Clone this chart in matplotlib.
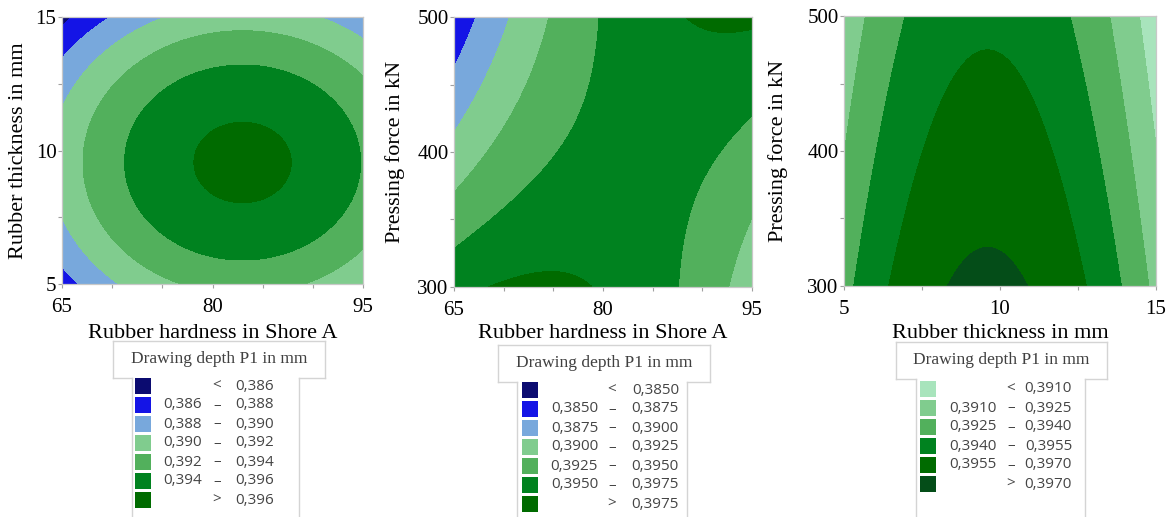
import numpy as np
import matplotlib.pyplot as plt
from matplotlib.patches import Rectangle
from matplotlib.lines import Line2D
from matplotlib.ticker import FixedLocator, FixedFormatter

W, H = 1170, 517

# axis ranges and ticks
hardness_range = [65, 95]
thickness_range = [5, 15]
force_range = [300, 500]
hardness_ticks = [65, 70, 75, 80, 85, 90, 95]
hardness_labels = ['65', '', '', '80', '', '', '95']
thickness_ticks = [5, 7.5, 10, 12.5, 15]
thickness_labels = ['5', '', '10', '', '15']
force_ticks = [300, 350, 400, 450, 500]
force_labels = ['300', '', '400', '', '500']

# quadratic response surfaces in coded units (-1..1)
# order: const, x, y, x*x, y*y, x*y
p1_coef = [0.39621, 0.001575, -0.000819, -0.003938, -0.00455, 0.0]
p2_coef = [0.395804, 0.001632, -0.001077, -0.0034, 0.000419, 0.004488]
p3_coef = [0.396236, -0.00072, -0.001025, -0.0045, 0.0, 0.0]

# legend class limits
p1_levels = [0.386, 0.388, 0.390, 0.392, 0.394, 0.396]
p2_levels = [0.3850, 0.3875, 0.3900, 0.3925, 0.3950, 0.3975]
p3_levels = [0.3910, 0.3925, 0.3940, 0.3955, 0.3970]

blue_green = ['#0b0b70', '#1414e6', '#78a8dc', '#80cc8e', '#52b05c', '#00821f', '#006b00']
greens = ['#a8e4bc', '#80cc8e', '#52b05c', '#00821f', '#006b00', '#044d18']

plt.rcParams['font.family'] = ['Liberation Serif', 'DejaVu Serif']


def px(x, y):
    return x / W, 1 - y / H


def surface(coef, x, y):
    return (coef[0] + coef[1] * x + coef[2] * y + coef[3] * x * x
            + coef[4] * y * y + coef[5] * x * y)


def draw_panel(rect, xr, yr, coef, levels, colors, xt, xtl, yt, ytl, xlabel, ylabel, xlab_y, ylab_x):
    ax = fig.add_axes(rect)
    xs = np.linspace(xr[0], xr[1], 400)
    ys = np.linspace(yr[0], yr[1], 400)
    X, Y = np.meshgrid(xs, ys)
    xc = (X - (xr[0] + xr[1]) / 2) / ((xr[1] - xr[0]) / 2)
    yc = (Y - (yr[0] + yr[1]) / 2) / ((yr[1] - yr[0]) / 2)
    Z = surface(coef, xc, yc)
    cs = ax.contourf(X, Y, Z, levels=[0.0] + levels + [1.0], colors=colors)
    cs.set_edgecolor('face')
    cs.set_linewidth(0.6)
    ax.set_xlim(xr)
    ax.set_ylim(yr)
    ax.xaxis.set_major_locator(FixedLocator(xt))
    ax.xaxis.set_major_formatter(FixedFormatter(xtl))
    ax.yaxis.set_major_locator(FixedLocator(yt))
    ax.yaxis.set_major_formatter(FixedFormatter(ytl))
    ax.tick_params(axis='x', length=3, width=0.8, color='#a0a0a0', pad=7, labelsize=15)
    ax.tick_params(axis='y', length=3, width=0.8, color='#a0a0a0', pad=1, labelsize=15)
    for s in ax.spines.values():
        s.set_color('#c8c8c8')
        s.set_linewidth(0.9)
    ax.set_xlabel(xlabel, fontsize=16)
    ax.set_ylabel(ylabel, fontsize=16)
    ax.xaxis.set_label_coords(0.5, xlab_y)
    ax.yaxis.set_label_coords(ylab_x, 0.5)
    return ax


def fmt(v, nd):
    return f"{v:.{nd}f}".replace('.', ',')


def draw_legend(t0, t1, top, b0, b1, sq_x, c1r, sep, c2r, row0, levels, colors, nd):
    bot = top + 37
    lc = '#d4d4d4'
    segs = [((t0, top), (t1, top)), ((t0, top), (t0, bot)), ((t1, top), (t1, bot)),
            ((t0, bot), (b0, bot)), ((b1, bot), (t1, bot)),
            ((b0, bot), (b0, H)), ((b1, bot), (b1, H))]
    for a, b in segs:
        xa, ya = px(*a)
        xb, yb = px(*b)
        fig.add_artist(Line2D([xa, xb], [ya, yb], color=lc, lw=1.0))
    tx, ty = px((t0 + t1) / 2, top + 18)
    fig.text(tx, ty, 'Drawing depth P1 in mm', ha='center', va='center',
             fontsize=12.5, color='#404040')
    rows = [('', '<', fmt(levels[0], nd))]
    for lo, hi in zip(levels[:-1], levels[1:]):
        rows.append((fmt(lo, nd), '–', fmt(hi, nd)))
    rows.append(('', '>', fmt(levels[-1], nd)))
    for i, (lo, s, hi) in enumerate(rows):
        yc = row0 + 19 * i
        x0, y0 = px(sq_x, yc + 8)
        fig.add_artist(Rectangle((x0, y0), 16 / W, 16 / H, transform=fig.transFigure,
                                 facecolor=colors[i], edgecolor='none'))
        kw = dict(va='center', fontsize=11, color='#454545', family=['Open Sans', 'DejaVu Sans'])
        fig.text(*px(c1r, yc), lo, ha='right', **kw)
        fig.text(*px(sep, yc), s, ha='center', **kw)
        fig.text(*px(c2r, yc), hi, ha='right', **kw)


fig = plt.figure(figsize=(W / 100, H / 100), dpi=100)

draw_panel([62 / W, 1 - 284 / H, 301 / W, 267 / H], hardness_range, thickness_range, p1_coef,
           p1_levels, blue_green, hardness_ticks, hardness_labels, thickness_ticks, thickness_labels,
           'Rubber hardness in Shore A', 'Rubber thickness in mm', -0.148, -0.113)
draw_panel([454 / W, 1 - 287 / H, 298 / W, 270 / H], hardness_range, force_range, p2_coef,
           p2_levels, blue_green, hardness_ticks, hardness_labels, force_ticks, force_labels,
           'Rubber hardness in Shore A', 'Pressing force in kN', -0.137, -0.164)
draw_panel([844 / W, 1 - 286 / H, 312 / W, 270 / H], thickness_range, force_range, p3_coef,
           p3_levels, greens, thickness_ticks, thickness_labels, force_ticks, force_labels,
           'Rubber thickness in mm', 'Pressing force in kN', -0.14, -0.18)

draw_legend(113, 325, 341, 132, 299, 135, 202, 217, 274, 386, p1_levels, blue_green, 3)
draw_legend(498, 710, 345, 517, 687, 522, 598, 612, 679, 390, p2_levels, blue_green, 4)
draw_legend(896, 1107, 342, 916, 1085, 920, 997, 1011, 1072, 389, p3_levels, greens, 4)

fig.savefig('out.png', dpi=100)
